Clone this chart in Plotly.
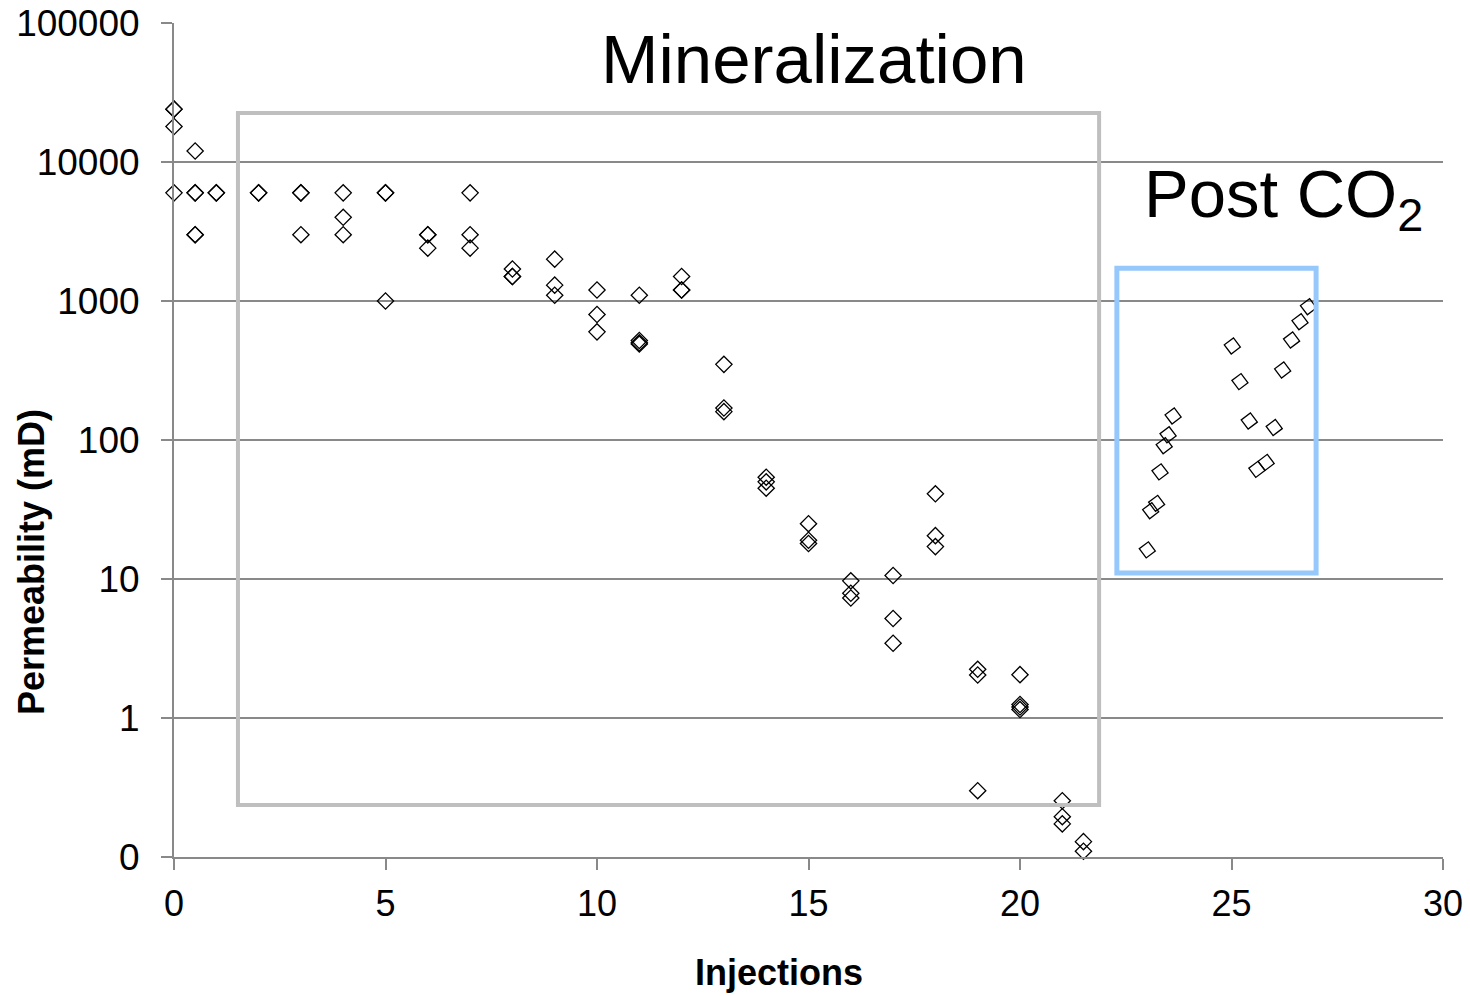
import plotly.graph_objects as go

# --- Data ---
mineral_x = [0, 0, 0, 0,
             0.5, 0.5, 0.5, 0.5, 0.5,
             1, 1,
             2, 2,
             3, 3, 3,
             4, 4, 4,
             5, 5, 5,
             6, 6, 6,
             7, 7, 7,
             8, 8, 8,
             9, 9, 9,
             10, 10, 10,
             11, 11, 11, 11,
             12, 12, 12,
             13, 13, 13,
             14, 14, 14,
             15, 15, 15,
             16, 16, 16,
             17, 17, 17,
             18, 18, 18,
             19, 19, 19,
             20, 20, 20, 20,
             21, 21, 21,
             21.5, 21.5]
mineral_y = [24000, 24000, 18000, 6000,
             12000, 6000, 6000, 3000, 3000,
             6000, 6000,
             6000, 6000,
             6000, 6000, 3000,
             6000, 4000, 3000,
             6000, 6000, 1000,
             3000, 3000, 2400,
             6000, 3000, 2400,
             1700, 1500, 1500,
             2000, 1300, 1100,
             1200, 800, 600,
             1100, 520, 500, 490,
             1500, 1200, 1200,
             350, 170, 160,
             54, 50, 45,
             25, 19, 18,
             9.7, 7.9, 7.3,
             10.6, 5.2, 3.45,
             41, 20.5, 17.1,
             2.24, 2.04, 0.3,
             2.05, 1.25, 1.2, 1.15,
             0.254, 0.195, 0.173,
             0.129, 0.11]

post_x = [23.01, 23.09, 23.23, 23.31, 23.41, 23.5, 23.62,
          25.02, 25.2, 25.42, 25.6, 25.82, 26.01, 26.21, 26.42, 26.62, 26.82]
post_y = [16.2, 31, 35, 59, 91, 109, 149,
          475, 263, 137, 61.5, 69, 123, 319, 524, 710, 910]

y_tickvals = [0.1, 1, 10, 100, 1000, 10000, 100000]
y_ticktext = ["0", "1", "10", "100", "1000", "10000", "100000"]
x_tickvals = [0, 5, 10, 15, 20, 25, 30]

FONT = "Liberation Sans, Arial, sans-serif"
GRID = "#898989"

fig = go.Figure()
fig.add_trace(go.Scatter(
    x=mineral_x, y=mineral_y, mode="markers",
    marker=dict(symbol="diamond-open", size=12.5, color="black",
                line=dict(width=1.3, color="black")),
    showlegend=False, cliponaxis=False))
fig.add_trace(go.Scatter(
    x=post_x, y=post_y, mode="markers",
    marker=dict(symbol="diamond-open", size=12.5, color="black", angle=8,
                line=dict(width=1.3, color="black")),
    showlegend=False, cliponaxis=False))

# Region boxes
fig.add_shape(type="rect", xref="paper", yref="paper",
              x0=0.0504, x1=0.729, y0=0.0624, y1=0.892,
              line=dict(color="#bfbfbf", width=4), layer="above")
fig.add_shape(type="rect", xref="paper", yref="paper",
              x0=0.743, x1=0.900, y0=0.3405, y1=0.706,
              line=dict(color="#96c8fc", width=5), layer="above")

fig.add_annotation(text="Mineralization", xref="paper", yref="paper",
                   x=0.5045, y=0.956, xanchor="center", yanchor="middle",
                   showarrow=False, font=dict(family=FONT, size=69, color="black"))
fig.add_annotation(text="Post CO<sub>2</sub>", xref="paper", yref="paper",
                   x=0.874, y=0.79, xanchor="center", yanchor="middle",
                   showarrow=False, font=dict(family=FONT, size=67, color="black"))

fig.add_annotation(text="<b>Permeability (mD)</b>", xref="paper", yref="paper",
                   x=-0.1127, y=0.3537, xanchor="center", yanchor="middle",
                   textangle=-90, showarrow=False,
                   font=dict(family=FONT, size=36, color="black"))
fig.add_annotation(text="<b>Injections</b>", xref="paper", yref="paper",
                   x=0.4768, y=-0.1379, xanchor="center", yanchor="middle",
                   showarrow=False, font=dict(family=FONT, size=36, color="black"))

fig.update_xaxes(range=[0, 30], tickvals=x_tickvals,
                 showgrid=False, zeroline=False, automargin=False,
                 showline=True, linecolor=GRID, linewidth=2,
                 ticks="outside", ticklen=11, tickwidth=2, tickcolor=GRID,
                 tickfont=dict(family=FONT, size=36, color="black"),
                 ticklabelstandoff=3)
fig.update_yaxes(type="log", range=[-1, 5], tickvals=y_tickvals, ticktext=y_ticktext,
                 showgrid=True, gridcolor=GRID, gridwidth=2,
                 zeroline=False, automargin=False,
                 showline=True, linecolor=GRID, linewidth=2,
                 ticks="outside", ticklen=11, tickwidth=2, tickcolor=GRID,
                 tickfont=dict(family=FONT, size=37, color="black"),
                 ticklabelstandoff=14)

fig.update_layout(width=1470, height=996,
                  margin=dict(l=174, r=27, t=23, b=139, autoexpand=False),
                  paper_bgcolor="white", plot_bgcolor="white",
                  font=dict(family=FONT))

fig.write_html("out.html")
